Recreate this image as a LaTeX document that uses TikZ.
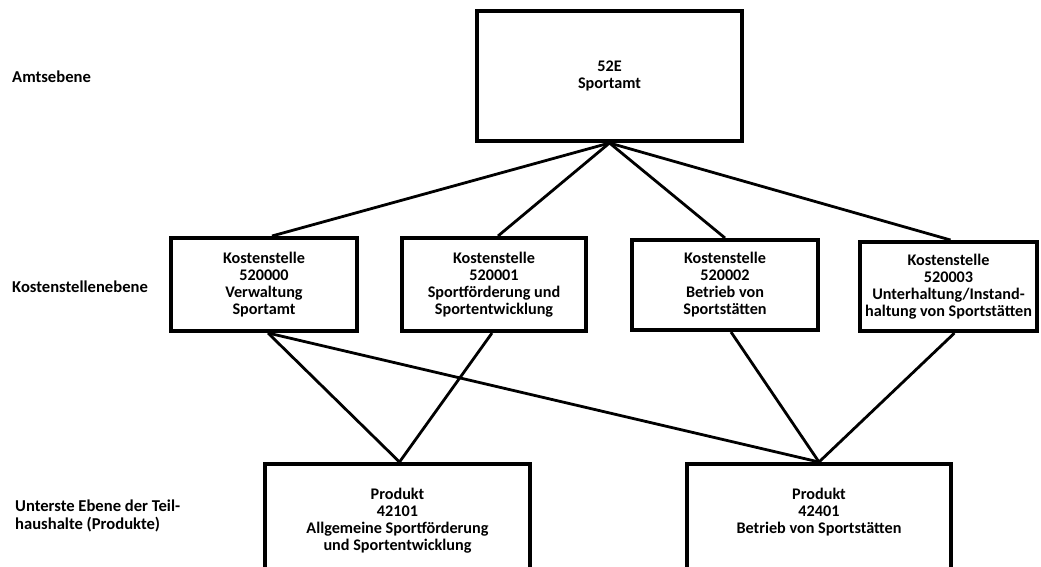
\documentclass[tikz,border=0pt]{standalone}
\usepackage{fontspec}
\setmainfont{Carlito}
\begin{document}
\begin{tikzpicture}[x=1pt,y=-1pt,
  box/.style={draw, line width=4pt, align=center, inner sep=0pt,
    font=\fontsize{16.2}{17}\selectfont\bfseries},
  conn/.style={line width=2.8pt},
  lvl/.style={anchor=west, align=left, inner sep=0pt,
    font=\fontsize{16.6}{18}\selectfont\bfseries}]
\path[use as bounding box] (0,0) rectangle (1041,566);
\clip (0,0) rectangle (1041,566);
\node[box, minimum width=265pt, minimum height=130pt] (top) at (609.5,76) {52E\\Sportamt};
\node[box, minimum width=186pt, minimum height=93pt] (m1) at (264,284.5) {Kostenstelle\\520000\\Verwaltung\\Sportamt};
\node[box, minimum width=184pt, minimum height=93pt] (m2) at (494,284.5) {Kostenstelle\\520001\\Sportförderung und\\Sportentwicklung};
\node[box, minimum width=186pt, minimum height=90pt] (m3) at (725,285) {Kostenstelle\\520002\\Betrieb von\\Sportstätten};
\node[box, minimum width=177pt, minimum height=89pt] (m4) at (948.5,286.5) {Kostenstelle\\520003\\Unterhaltung/Instand-\\haltung von Sportstätten};
\node[box, minimum width=265pt, minimum height=114pt] (pa) at (397.5,521) {Produkt\\42101\\Allgemeine Sportförderung\\und Sportentwicklung};
\node[box, minimum width=264pt, minimum height=114pt] (pb) at (819,521) {Produkt\\42401\\Betrieb von Sportstätten\\\mbox{\vphantom{Sg}}};
\node[lvl] (l1) at (12,77) {Amtsebene};
\node[lvl] (l2) at (12,287) {Kostenstellenebene};
\node[lvl] (l3) at (15,516) {Unterste Ebene der Teil-\\haushalte (Produkte)};
\draw[conn] (top.south) -- ([xshift=8pt]m1.north);
\draw[conn] (top.south) -- ([xshift=4pt]m2.north);
\draw[conn] (top.south) -- (m3.north);
\draw[conn] (top.south) -- ([xshift=2pt]m4.north);
\draw[conn] ([xshift=4pt]m1.south) -- ([xshift=2pt]pa.north);
\draw[conn] ([xshift=4pt]m1.south) -- (pb.north);
\draw[conn] ([xshift=-2pt]m2.south) -- ([xshift=2pt]pa.north);
\draw[conn] ([xshift=6pt]m3.south) -- (pb.north);
\draw[conn] ([xshift=6pt]m4.south) -- (pb.north);
\end{tikzpicture}
\end{document}
